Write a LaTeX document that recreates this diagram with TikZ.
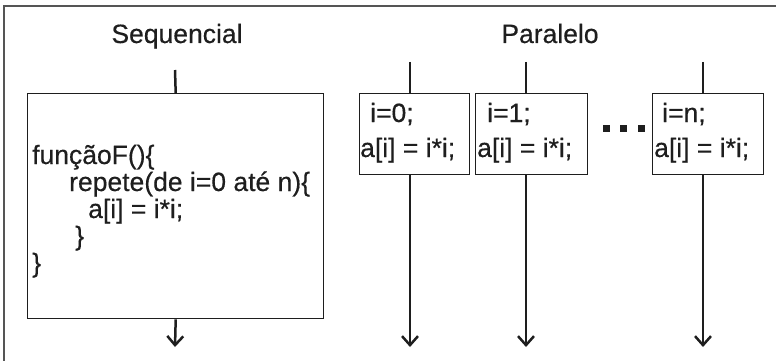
\documentclass[tikz,border=0pt]{standalone}
\usepackage{fontspec}
\setmainfont{Liberation Sans}[FakeBold=0.4]
\usetikzlibrary{arrows.meta}
\definecolor{ink}{HTML}{1E1E1E}
\definecolor{frame}{HTML}{555555}
\tikzset{
  txt/.style={inner sep=0pt, anchor=base west, text=ink, font=\fontsize{26.5}{28}\selectfont},
  ttl/.style={inner sep=0pt, anchor=base, text=ink, font=\fontsize{26.5}{28}\selectfont},
  box/.style={draw=ink, line width=1.4pt, inner sep=0pt, anchor=north west},
  wire/.style={draw=ink, line width=2.5pt},
  flow/.style={wire, -{Straight Barb[length=9pt,width=16pt,line width=2.5pt]}},
  dot/.style={fill=ink, inner sep=0pt, minimum size=7pt, anchor=north west}
}
\begin{document}
\begin{tikzpicture}[x=1pt,y=-1pt]
\useasboundingbox (0,0) rectangle (776,361);
\draw[frame, line width=1.6pt] (4,363) -- (4,6) -- (778,6);
% titles
\node[ttl] (tseq) at (177,43) {Sequencial};
\node[ttl] (tpar) at (550,43) {Paralelo};
% sequential
\coordinate (s0) at (175,70);
\node[box, minimum width=296pt, minimum height=225pt] (sbox) at (27,93) {};
\coordinate (s1) at (175,347);
\draw[wire] (s0) -- (sbox.north);
\draw[flow] (sbox.south) -- (s1);
\node[txt] (l1) at (32,164) {funçãoF()\{};
\node[txt] (l2) at (69,191) {repete(de i=0 até n)\{};
\node[txt] (l3) at (88,218) {a[i] = i*i;};
\node[txt] (l4) at (75,245) {\}};
\node[txt] (l5) at (32,272) {\}};
% parallel boxes
\node[box, minimum width=110pt, minimum height=81pt] (p1) at (359,93) {};
\node[box, minimum width=112pt, minimum height=81pt] (p2) at (475,93) {};
\node[box, minimum width=111pt, minimum height=81pt] (p3) at (652,93) {};
\coordinate (a1) at (410,62);
\coordinate (a2) at (526,62);
\coordinate (a3) at (703,62);
\coordinate (b1) at (410,347);
\coordinate (b2) at (526,347);
\coordinate (b3) at (703,347);
\draw[wire] (a1) -- (a1 |- p1.north);
\draw[wire] (a2) -- (a2 |- p2.north);
\draw[wire] (a3) -- (a3 |- p3.north);
\draw[flow] (b1 |- p1.south) -- (b1);
\draw[flow] (b2 |- p2.south) -- (b2);
\draw[flow] (b3 |- p3.south) -- (b3);
\node[txt] (q1a) at (370,122) {i=0;};
\node[txt] (q1b) at (360,157) {a[i] = i*i;};
\node[txt] (q2a) at (487,122) {i=1;};
\node[txt] (q2b) at (477,157) {a[i] = i*i;};
\node[txt] (q3a) at (662,122) {i=n;};
\node[txt] (q3b) at (654,157) {a[i] = i*i;};
% dots
\node[dot] (d1) at (603,125) {};
\node[dot] (d2) at (620,125) {};
\node[dot] (d3) at (638,125) {};
\end{tikzpicture}
\end{document}
